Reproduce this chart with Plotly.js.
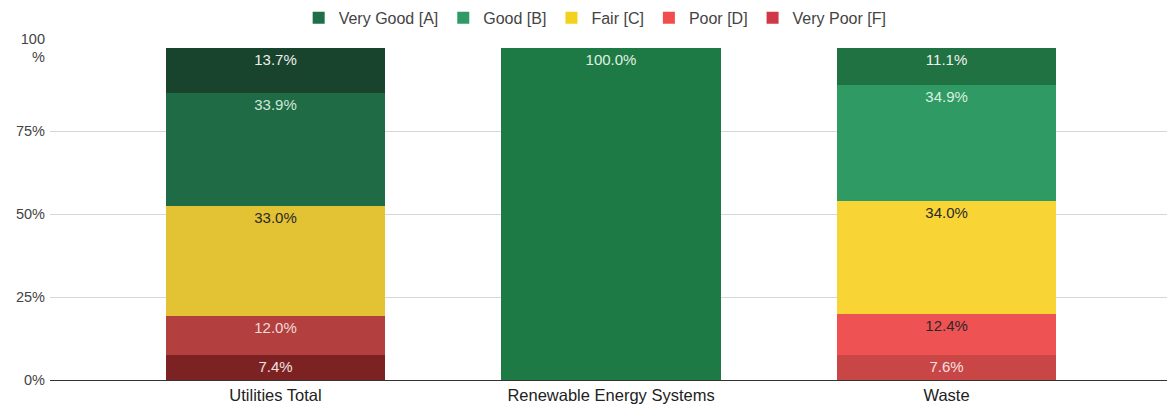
<!DOCTYPE html>
<html>
<head>
<meta charset="utf-8">
<script src="https://cdn.plot.ly/plotly-3.0.1.min.js"></script>
<style>html,body{margin:0;padding:0;background:#fff;}#chart{width:1167px;height:414px;}</style>
</head>
<body>
<div id="chart"></div>
<script>
// ---- data ----
var categories = ['Utilities Total', 'Renewable Energy Systems', 'Waste'];
var gradeNames = ['Very Good [A]', 'Good [B]', 'Fair [C]', 'Poor [D]', 'Very Poor [F]'];
var veryGood = [13.7, 100.0, 11.1];
var good     = [33.9, null, 34.9];
var fair     = [33.0, null, 34.0];
var poor     = [12.0, null, 12.4];
var veryPoor = [7.4, null, 7.6];
var yTickVals = [0, 25, 50, 75, 100];
var yTickText = ['0%', '25%', '50%', '75%', '100<br>%'];

// ---- styles ----
var legendColors = ['#1f6e4a', '#2f9a66', '#f2d21f', '#f04e4e', '#d03848'];
var pointColors = {
  veryGood: ['#18432c', '#1d7a45', '#217243'],
  good:     ['#1f6b45', '#2f9a63', '#2f9a63'],
  fair:     ['#e3c233', '#f8d535', '#f8d535'],
  poor:     ['#b3403f', '#ef5252', '#ef5252'],
  veryPoor: ['#7d2222', '#c94646', '#c94646']
};
var textColors = {
  veryGood: ['#eeeeee', '#e0f0e4', '#f0f0f0'],
  good:     ['#cfe8d8', '#d8f0e0', '#d8f0e0'],
  fair:     ['#2a2a2a', '#2a2a2a', '#2a2a2a'],
  poor:     ['#f0dada', '#2a2a2a', '#2a2a2a'],
  veryPoor: ['#f0e0e0', '#f5e0e0', '#f5e0e0']
};

var series = [
  {key: 'veryPoor', vals: veryPoor, name: gradeNames[4]},
  {key: 'poor',     vals: poor,     name: gradeNames[3]},
  {key: 'fair',     vals: fair,     name: gradeNames[2]},
  {key: 'good',     vals: good,     name: gradeNames[1]},
  {key: 'veryGood', vals: veryGood, name: gradeNames[0]}
];

var FONT = '"Liberation Sans", Arial, Helvetica, sans-serif';
var traces = [];
series.forEach(function (s) {
  traces.push({
    type: 'bar',
    x: categories,
    y: s.vals,
    name: s.name,
    showlegend: false,
    width: 0.653,
    marker: {color: pointColors[s.key], line: {width: 0}},
    texttemplate: '%{y:.1f}%',
    textposition: 'inside',
    insidetextanchor: 'end',
    textangle: 0,
    constraintext: 'none',
    textfont: {family: FONT, size: 15, color: textColors[s.key]},
    hoverinfo: 'skip'
  });
});
// legend-only entries (order: bottom stack first, legend reversed)
for (var i = gradeNames.length - 1; i >= 0; i--) {
  traces.push({
    type: 'bar',
    x: [categories[0]],
    y: [null],
    name: gradeNames[i],
    showlegend: true,
    marker: {color: legendColors[i]},
    hoverinfo: 'skip'
  });
}

var layout = {
  width: 1167,
  height: 414,
  margin: {l: 50, r: 0, t: 48, b: 34},
  paper_bgcolor: '#ffffff',
  plot_bgcolor: '#ffffff',
  barmode: 'stack',
  font: {family: FONT, size: 15, color: '#444'},
  showlegend: true,
  legend: {
    orientation: 'h',
    traceorder: 'reversed',
    x: 0.51, xanchor: 'center', xref: 'container',
    y: 0.957, yanchor: 'middle', yref: 'container',
    font: {family: FONT, size: 16, color: '#444'},
    itemclick: false
  },
  xaxis: {
    type: 'category',
    range: [-0.672, 2.657],
    showgrid: false,
    showline: true,
    linecolor: '#333333',
    linewidth: 1,
    ticks: '',
    tickfont: {family: FONT, size: 16.5, color: '#222'},
    fixedrange: true
  },
  yaxis: {
    range: [0, 100],
    tickvals: yTickVals,
    ticktext: yTickText,
    showgrid: true,
    gridcolor: '#d6d6d6',
    zeroline: false,
    ticks: '',
    ticklabelstandoff: 4,
    tickfont: {family: FONT, size: 14.5, color: '#444'},
    fixedrange: true
  }
};

Plotly.newPlot('chart', traces, layout, {displayModeBar: false, staticPlot: true});
</script>
</body>
</html>
